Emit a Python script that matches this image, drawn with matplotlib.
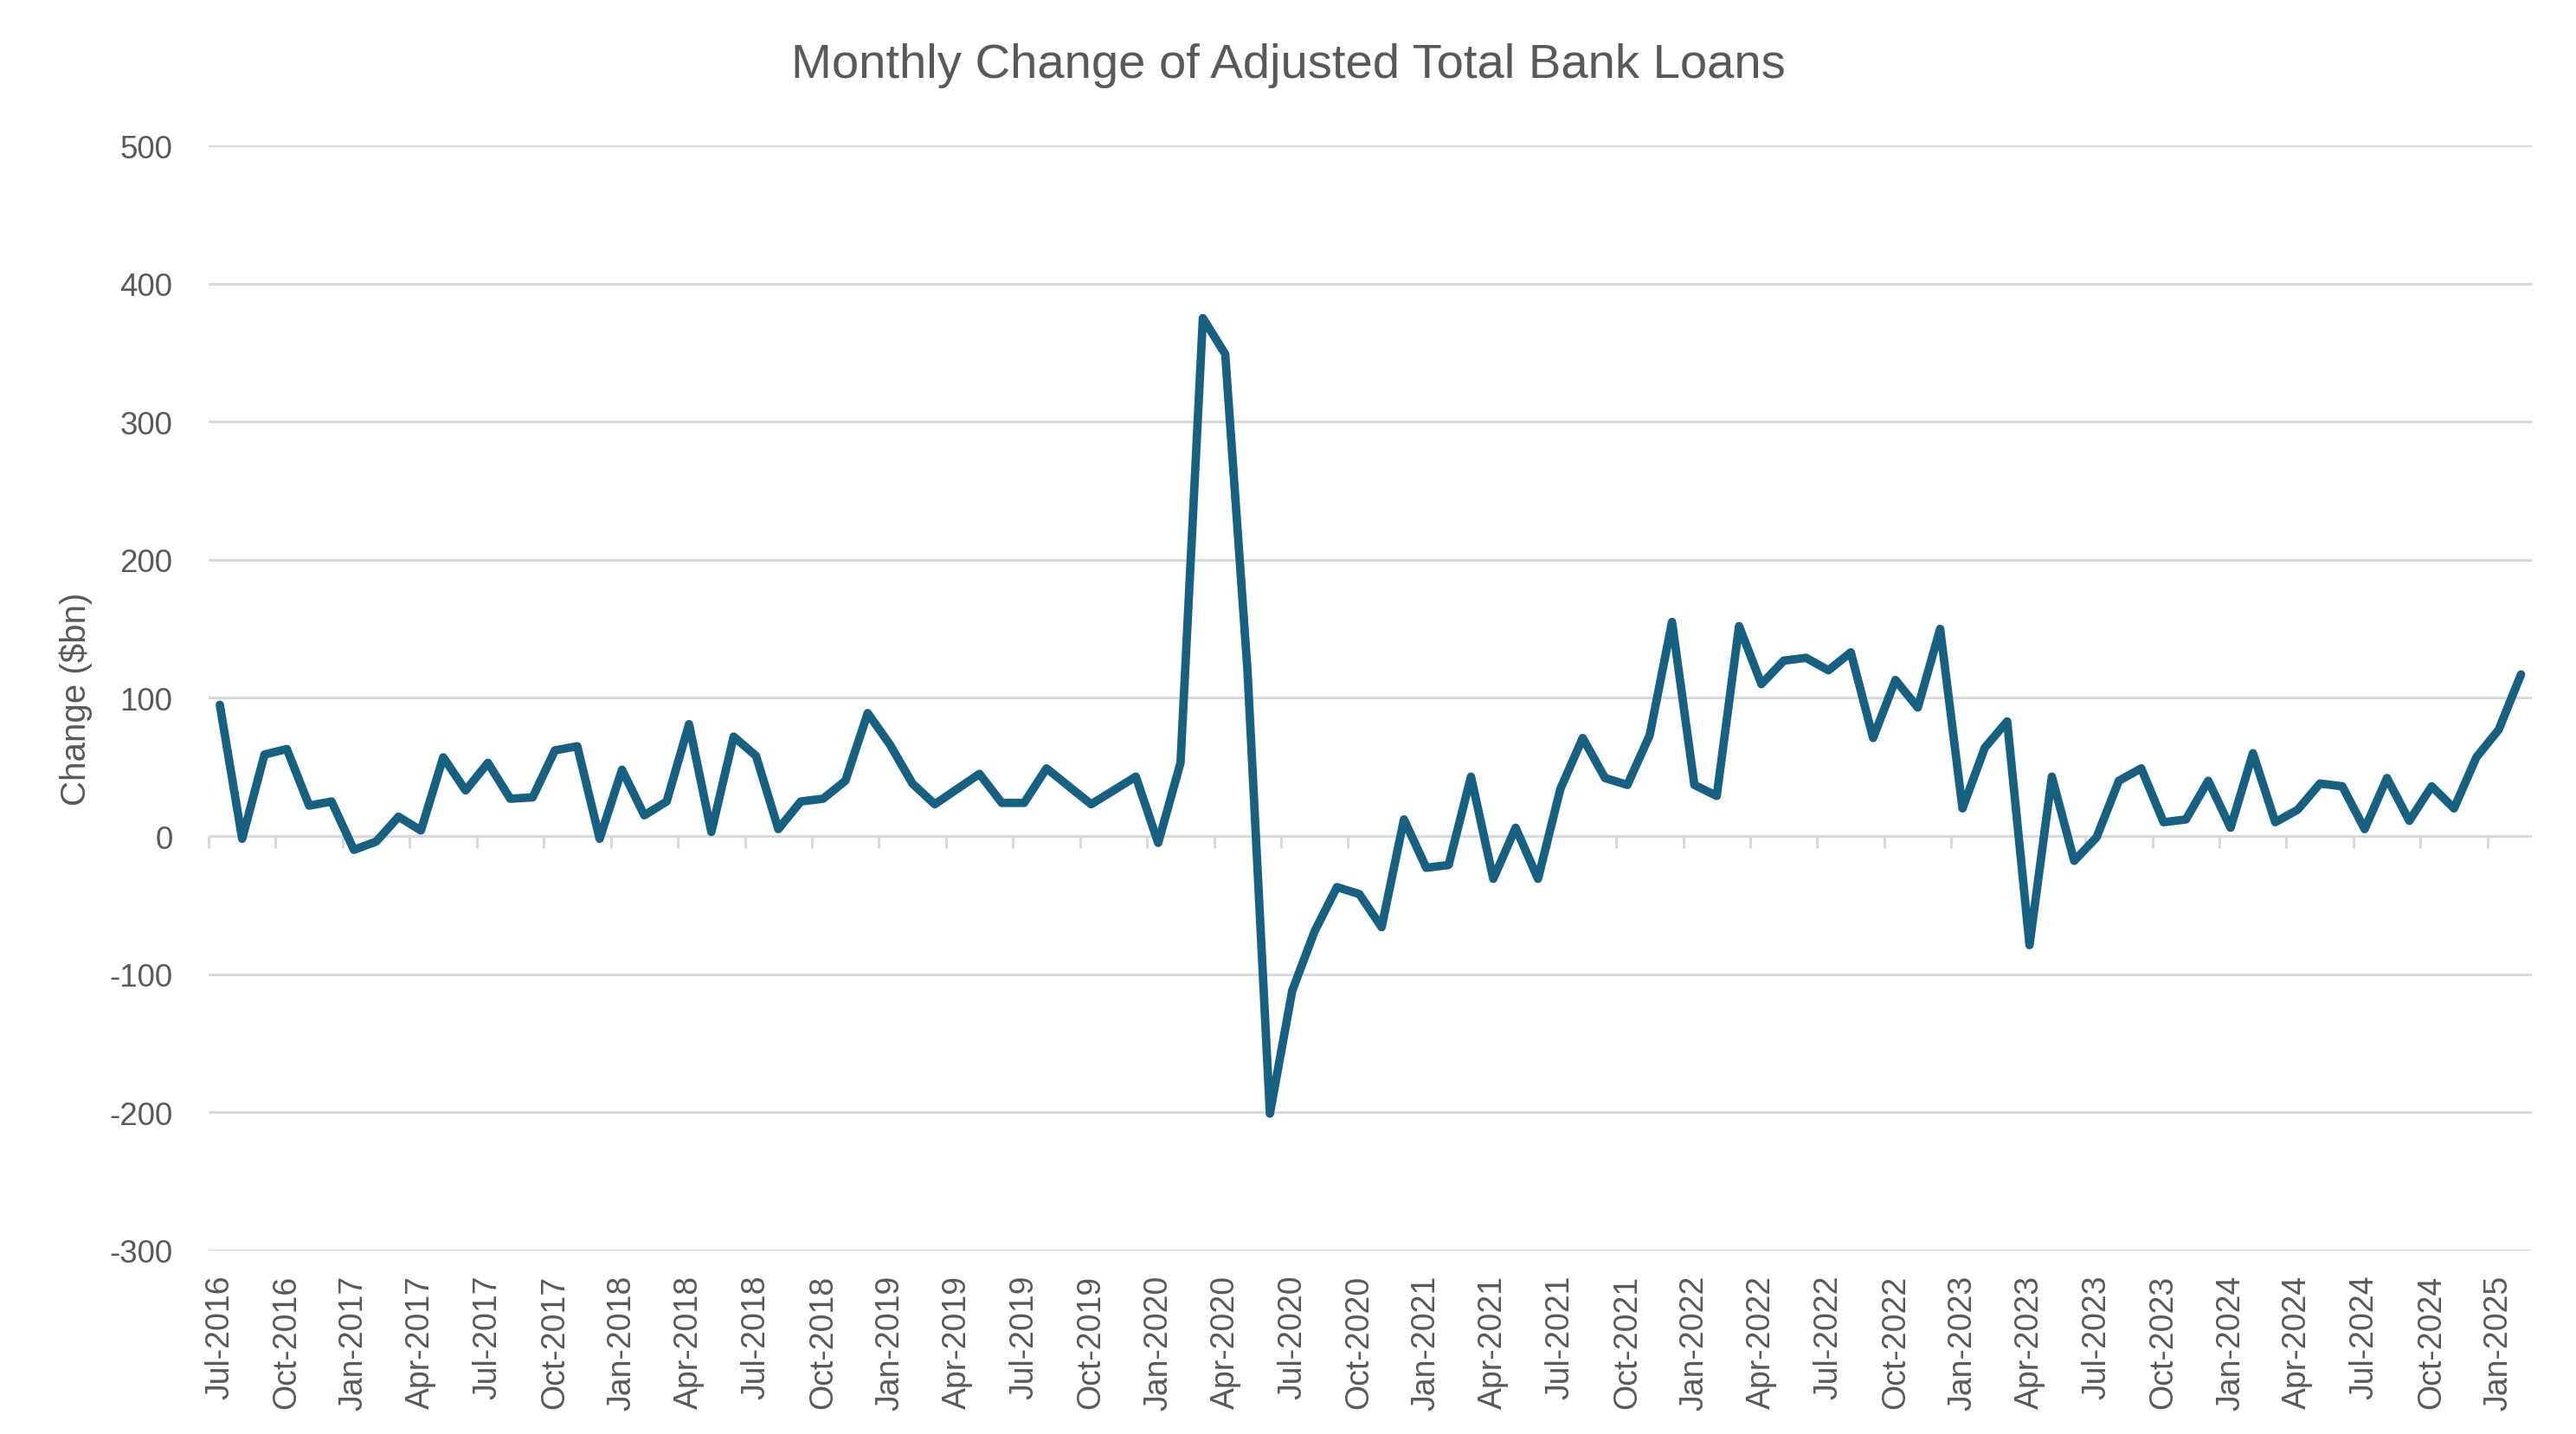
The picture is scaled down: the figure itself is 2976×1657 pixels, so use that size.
import matplotlib
matplotlib.use("Agg")
import matplotlib.pyplot as plt
import numpy as np
import pandas as pd

# ---- data ----
start_month = "2016-07"
n_months = 104
values = [
    # 2016 Jul-Dec
    95, -2, 59, 63, 22, 25,
    # 2017
    -10, -4, 14, 4, 57, 33, 53, 27, 28, 62, 65, -2,
    # 2018
    48, 15, 25, 81, 3, 72, 58, 5, 25, 27, 40, 89,
    # 2019
    66, 38, 23, 34, 45, 24, 24, 49, 36, 23, 33, 43,
    # 2020
    -5, 53, 375, 349, 119, -201, -112, -69, -37, -42, -66, 12,
    # 2021
    -23, -21, 43, -31, 6, -31, 34, 71, 42, 37, 73, 155,
    # 2022
    37, 29, 152, 110, 127, 129, 120, 133, 71, 113, 93, 150,
    # 2023
    20, 64, 83, -79, 43, -18, -1, 40, 49, 10, 12, 40,
    # 2024
    6, 60, 10, 19, 38, 36, 5, 42, 11, 36, 20, 57,
    # 2025 Jan-Feb
    77, 117,
]
dates = pd.period_range(start_month, periods=n_months, freq="M")
category_labels = [d.strftime("%b-%Y") for d in dates]
y_ticks = [-300, -200, -100, 0, 100, 200, 300, 400, 500]

title = "Monthly Change of Adjusted Total Bank Loans"
y_label = "Change ($bn)"

# ---- style ----
plt.rcParams["font.family"] = ["Liberation Sans", "DejaVu Sans"]
text_color = "#595959"
grid_color = "#d9d9d9"
line_color = "#166082"

fig = plt.figure(figsize=(29.76, 16.58), dpi=100)
ax = fig.add_axes([0.081, 0.128, 0.902, 0.770])

x = np.arange(len(values))
ax.plot(x, values, color=line_color, lw=7.0, solid_joinstyle="round",
        solid_capstyle="round", zorder=3)

ax.set_xlim(-0.5, len(values) - 0.5)
ax.set_ylim(-300, 500)
ax.set_yticks(y_ticks)
ax.set_yticklabels([str(v) for v in y_ticks])
ax.yaxis.grid(True, color=grid_color, lw=2.2)
ax.set_axisbelow(True)

lab_pos = x[::3]
ax.set_xticks(lab_pos)
ax.set_xticklabels([category_labels[i] for i in lab_pos], rotation=90,
                   va="top", ha="center")
ax.tick_params(axis="x", length=0, pad=20, labelsize=27, labelcolor=text_color)
ax.tick_params(axis="y", length=0, pad=30, labelsize=26.5, labelcolor=text_color)

for s in ax.spines.values():
    s.set_visible(False)

# category-boundary tick marks hanging from the zero line
bounds = np.arange(-0.5, len(values) - 1, 3)
ax.vlines(bounds, 0, -8.5, color=grid_color, lw=2.2, zorder=1, clip_on=False)

ax.set_ylabel(y_label, fontsize=29, color=text_color, labelpad=14)
fig.text(0.5, 0.954, title, ha="center", va="center", fontsize=40.5,
         color=text_color)

fig.savefig("out.png", dpi=100)
